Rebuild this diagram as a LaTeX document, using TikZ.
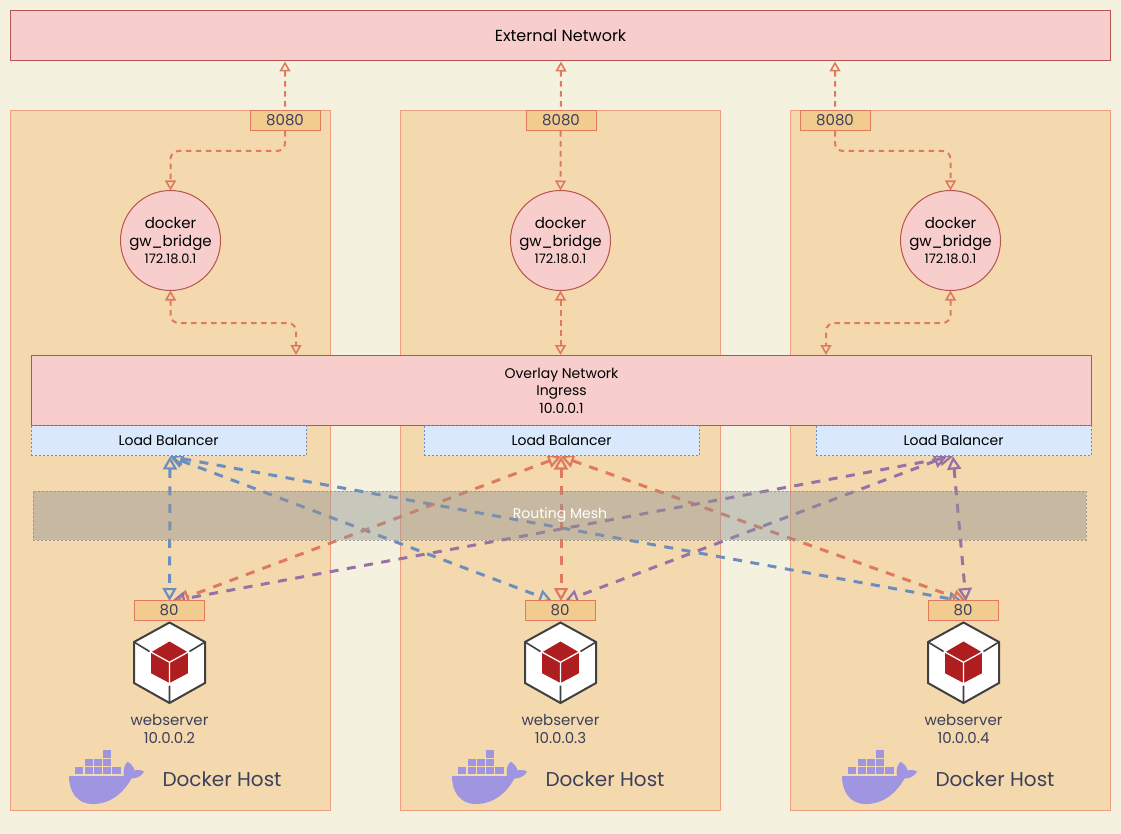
\documentclass[tikz,border=0pt]{standalone}
\usepackage{fontspec}
\setmainfont{Poppins}
\usetikzlibrary{arrows.meta}
\definecolor{pagebg}{HTML}{F4F1DE}
\definecolor{hostbg}{HTML}{F3D9AD}
\definecolor{hostline}{HTML}{EF9E80}
\definecolor{portbg}{HTML}{F2CC8F}
\definecolor{orangeline}{HTML}{E07A5F}
\definecolor{netbg}{HTML}{F8CECC}
\definecolor{netline}{HTML}{B85450}
\definecolor{lbbg}{HTML}{DAE8FC}
\definecolor{blueline}{HTML}{6C8EBF}
\definecolor{purpleline}{HTML}{9673A6}
\definecolor{inktext}{HTML}{3D405B}
\definecolor{whalecol}{HTML}{A095E0}
\definecolor{cubered}{HTML}{AE1E20}
\definecolor{meshgrey}{HTML}{939494}
\pgfdeclarelayer{back}
\pgfsetlayers{back,main}
\tikzset{
  host/.style={draw=hostline, fill=hostbg, line width=1pt, minimum width=320pt, minimum height=700pt, inner sep=0pt, outer sep=0pt},
  net/.style={draw=netline, fill=netbg, line width=1pt, inner sep=0pt, outer sep=0pt, align=center, text=black, font=\fontsize{14}{17.5}\selectfont},
  port/.style={draw=orangeline, fill=portbg, line width=1pt, minimum width=70pt, minimum height=20pt, inner sep=0pt, outer sep=0pt, text=inktext, font=\fontsize{15}{17}\selectfont},
  bridge/.style={circle, draw=netline, fill=netbg, line width=1pt, minimum size=100pt, inner sep=0pt, outer sep=0pt, align=center, text=black, font=\fontsize{15}{18}\selectfont},
  balancer/.style={draw=blueline, dashed, dash pattern=on 2pt off 2pt, fill=lbbg, line width=.8pt, minimum width=275pt, minimum height=30pt, inner sep=0pt, outer sep=0pt, text=black, font=\fontsize{14}{17}\selectfont},
  label/.style={align=center, inner sep=0pt, text=inktext, font=\fontsize{15}{18}\selectfont},
  hostname/.style={inner sep=0pt, text=inktext, font=\fontsize{20}{24}\selectfont},
  wire/.style={draw=orangeline, line width=2pt, dash pattern=on 5.5pt off 4.5pt, rounded corners=8pt, {Triangle[open,length=10pt,width=11pt,line width=1.6pt]}-{Triangle[open,length=10pt,width=11pt,line width=1.6pt]}},
  fan/.style={line width=3pt, dash pattern=on 9pt off 8.5pt, {Triangle[open,length=13pt,width=14pt,line width=2.2pt]}-{Triangle[open,length=13pt,width=14pt,line width=2.2pt]}},
  pics/cube/.style={code={
    \draw[fill=white, draw=black!75, line width=2pt, line join=miter] (0,-40) -- (35.5,-20.5) -- (35.5,20.5) -- (0,40.5) -- (-35.5,20.5) -- (-35.5,-20.5) -- cycle;
    \draw[draw=black!75, line width=1.6pt] (-35.5,-20.5) -- (-20,-11) (35.5,-20.5) -- (20,-11) (0,40.5) -- (0,23);
    \fill[cubered] (0,-21) -- (18.3,-10.3) -- (18.3,10.8) -- (0,20.5) -- (-18.3,10.8) -- (-18.3,-10.3) -- cycle;
    \draw[white, line width=1.3pt] (-18.3,-10.3) -- (0,-.2) -- (18.3,-10.3) (0,-.2) -- (0,20.5);
  }},
  pics/whale/.style={code={
    \fill[whalecol] (0,26) -- (55,26) .. controls (54,20) and (55,15) .. (58.7,11.7) .. controls (62,14) and (65,17) .. (65.5,20.5) .. controls (69,19.5) and (73,20) .. (75,21.7) .. controls (72.5,26.5) and (67,28.5) .. (62.5,28.5) .. controls (55,42) and (42,54) .. (24,54) .. controls (8,54) and (0,42) .. (0,26) -- cycle;
    \foreach \cx/\cy in {6/17,15.6/17,24.8/17,34/17,43.3/17,15.6/9,24.8/9,34/9,34/.3} {
      \fill[whalecol] (\cx,\cy) rectangle ++(8.3,7.3);
    }
  }},
}
\begin{document}
\begin{tikzpicture}[x=1pt, y=-1pt]
  \useasboundingbox (0,0) rectangle (1121,834);

  % page and hosts
  \begin{pgfonlayer}{back}
    \fill[pagebg] (0,0) rectangle (1121,834);
    \node[host] (hostA) at (170.5,460.5) {};
    \node[host] (hostB) at (560.5,460.5) {};
    \node[host] (hostC) at (950.5,460.5) {};
  \end{pgfonlayer}

  % networks
  \node[net, minimum width=1100pt, minimum height=50pt, font=\fontsize{16}{18}\selectfont] (external) at (560.5,35.5) {External Network};
  \node[net, minimum width=1060pt, minimum height=70pt] (overlay) at (561.5,390.5) {Overlay Network\\Ingress\\10.0.0.1};
  \node[balancer] (lbA) at (168.5,440.5) {Load Balancer};
  \node[balancer] (lbB) at (561.5,440.5) {Load Balancer};
  \node[balancer] (lbC) at (953.5,440.5) {Load Balancer};
  \node[draw=black!45, dashed, dash pattern=on 2pt off 2pt, fill=meshgrey, fill opacity=.45, draw opacity=.8, line width=.8pt, minimum width=1053pt, minimum height=49pt, inner sep=0pt] (mesh) at (559.5,515.5) {};
  \node[text=white, inner sep=0pt, font=\fontsize{14}{17}\selectfont] (meshtext) at (560,515.5) {Routing Mesh};

  % published ports
  \node[port] (pubA) at (285,120.5) {8080};
  \node[port] (pubB) at (561,120.5) {8080};
  \node[port] (pubC) at (835,120.5) {8080};

  % bridges
  \foreach \name/\x in {gwA/170.5,gwB/560.5,gwC/950.5} {
    \node[bridge] (\name) at (\x,240.5) {docker\\gw\_bridge\\[-1pt]{\fontsize{13}{15}\selectfont 172.18.0.1}};
  }

  % webservers
  \foreach \name/\x/\ip in {A/169.5/2,B/560.5/3,C/963.5/4} {
    \node[port] (web\name) at (\x-.5,610.5) {80};
    \pic at (\x,662.5) {cube};
    \node[label] (ws\name) at (\x,729) {webserver\\10.0.0.\ip};
  }

  % whales and host names
  \foreach \name/\x/\t in {A/69/222,B/452/605,C/842/995} {
    \pic at (\x,750) {whale};
    \node[hostname] (dock\name) at (\t,779) {Docker Host};
  }

  % free ends
  \coordinate (extA) at (285,61.5);
  \coordinate (extB) at (561,61.5);
  \coordinate (extC) at (835,61.5);
  \coordinate (ovA) at (296,355);
  \coordinate (ovC) at (826,355);
  \coordinate (ovB) at (560.5,355);

  % wires from the outside to the overlay
  \begin{pgfonlayer}{back}
    \draw[wire] (extA) -- (285,151) -| (gwA.north);
    \draw[wire] (extB) -- (gwB.north);
    \draw[wire] (extC) -- (835,151) -| (gwC.north);
    \draw[wire] (gwA.south) -- (170.5,323) -| (ovA);
    \draw[wire] (gwB.south) -- (ovB);
    \draw[wire] (gwC.south) -- (950.5,323) -| (ovC);

    % routing mesh
    \coordinate (inA) at (170,456.5);
    \coordinate (inB) at (561,456.5);
    \coordinate (inC) at (953,456.5);
    \coordinate (inCb) at (947,456.5);
    \foreach \a/\b/\colr in {inA/169.5/blueline,inA/552/blueline,inA/962/blueline,
                             inB/176/orangeline,inB/561/orangeline,inB/966/orangeline,
                             inC/172/purpleline,inCb/565/purpleline,inC/966/purpleline} {
      \draw[fan, draw=\colr] (\a) -- (\b,601);
    }
  \end{pgfonlayer}
\end{tikzpicture}
\end{document}
